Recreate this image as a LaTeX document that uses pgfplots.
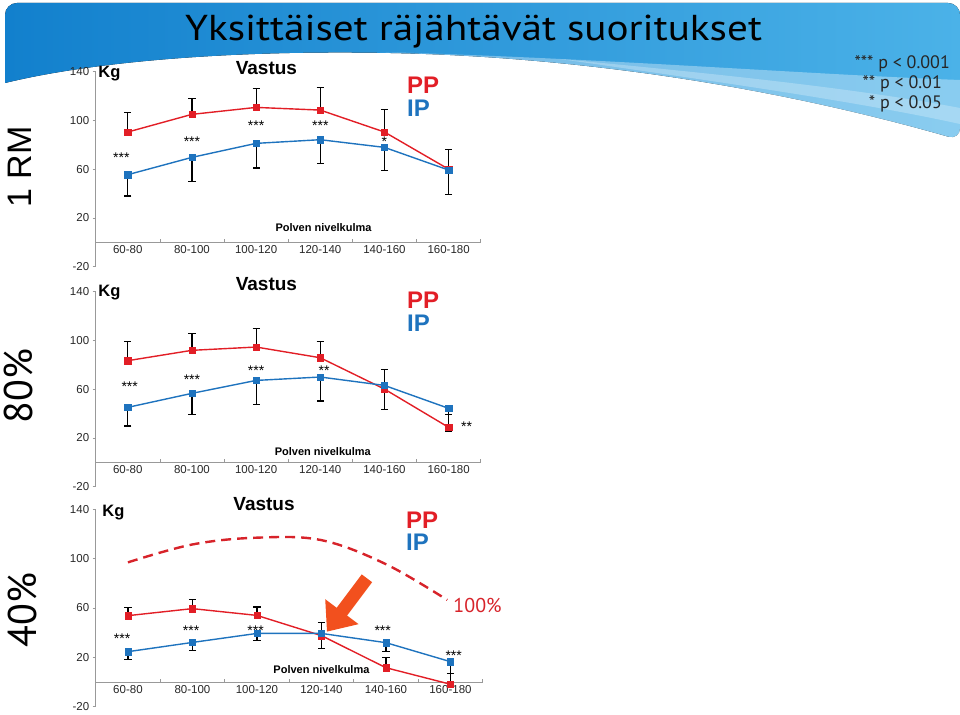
\documentclass[border=0pt]{standalone}
\usepackage{fontspec}
\setmainfont{Liberation Sans}
\newfontfamily\gill{PT Sans}
\usepackage{pgfplots}
\pgfplotsset{compat=1.18}
\usetikzlibrary{arrows.meta}
\definecolor{ppred}{RGB}{226,30,38}
\definecolor{ipblue}{RGB}{30,115,190}
\definecolor{arroworange}{RGB}{242,80,30}
\definecolor{bgblue}{RGB}{18,128,205}
\definecolor{bglight}{RGB}{75,178,232}
\definecolor{dashred}{RGB}{215,35,42}
\newcommand{\fs}[1]{\fontsize{#1}{#1}\selectfont}

\pgfplotsset{
  panel/.style={
    scale only axis, width=385pt, height=195pt,
    xmin=-0.5, xmax=5.5, ymin=-20, ymax=140,
    axis y line=left, axis x line=middle,
    axis line style={-, draw=black!40, line width=0.6pt},
    every inner x axis line/.append style={-},
    every outer y axis line/.append style={-},
    every outer x axis line/.append style={-},
    every inner y axis line/.append style={-},
    hide obscured x ticks=false, hide obscured y ticks=false,
    xtick={-0.5,0.5,...,5.5}, x tick label as interval,
    xticklabels={60-80,80-100,100-120,120-140,140-160,160-180},
    ytick={-20,20,60,100,140}, yticklabels={-20,20,60,100,140},
    tick style={draw=black!40, line width=0.6pt},
    major tick length=3pt,
    ytick align=outside, xtick align=inside,
    ticklabel style={font=\fs{11.5}, text=black!85},
    clip=false,
  },
  ppstyle/.style={color=ppred, line width=1.4pt, mark=square*, mark size=3.1pt,
    mark options={solid, fill=ppred, draw=ppred, line width=0.4pt},
    error bars/y dir=plus, error bars/y explicit,
    error bars/error bar style={black, line width=1.1pt},
    error bars/error mark options={rotate=90, black, line width=1.1pt, mark size=3.6pt}},
  ipstyle/.style={color=ipblue, line width=1.4pt, mark=square*, mark size=3.1pt,
    mark options={solid, fill=ipblue, draw=ipblue, line width=0.4pt},
    error bars/y dir=minus, error bars/y explicit,
    error bars/error bar style={black, line width=1.1pt},
    error bars/error mark options={rotate=90, black, line width=1.1pt, mark size=3.6pt}},
}
\tikzset{
  stars/.style={font=\fs{14}, anchor=base, yshift=-8pt, inner sep=0pt},
  kg/.style={font=\bfseries\fs{16.5}, anchor=base west, inner sep=0pt},
  vastus/.style={font=\bfseries\fs{19}, anchor=base, inner sep=0pt},
  pp/.style={font=\bfseries\fs{24}, anchor=base west, inner sep=0pt, text=ppred},
  ip/.style={font=\bfseries\fs{24}, anchor=base west, inner sep=0pt, text=ipblue},
  polven/.style={font=\bfseries\fs{11}, inner sep=0pt},
}

\begin{document}
\begin{tikzpicture}
\begin{scope}[x=1pt,y=1pt]
\path[use as bounding box] (0,0) rectangle (960,714);
% background swoosh
\fill[left color=bgblue, right color=bglight, rounded corners=12pt]
  (5,631) -- (5,711) -- (960,711) -- (960,574) [sharp corners]
  .. controls (820,614) and (650,649) .. (450,659)
  .. controls (300,666) and (120,659) .. (5,631) -- cycle;
\fill[white, opacity=0.35]
  (380,662) .. controls (600,656) and (800,640) .. (960,634) -- (960,574)
  .. controls (820,614) and (650,649) .. (450,659) -- cycle;
\fill[white, opacity=0.25]
  (560,655) .. controls (720,640) and (860,625) .. (960,606) -- (960,590)
  .. controls (860,612) and (720,632) .. (560,655) -- cycle;
% title
\node[font=\gill\fs{36}, anchor=base, inner sep=0pt] at (473.5,673) {\scalebox{1.145}[1]{Yksittäiset räjähtävät suoritukset}};
% significance legend
\node[font=\gill\fs{18}, anchor=base east, inner sep=0pt, text=black!85] at (950,645) {*** p < 0.001};
\node[font=\gill\fs{18}, anchor=base east, inner sep=0pt, text=black!85] at (942,625.5) {** p < 0.01};
\node[font=\gill\fs{18}, anchor=base east, inner sep=0pt, text=black!85] at (942,605.5) {* p < 0.05};
% side labels
\node[rotate=90, font=\fs{34}] at (20,547) {1 RM};
\node[rotate=90, font=\gill\fs{40}] at (18,328) {80\%};
\node[rotate=90, font=\gill\fs{40}] at (22,104) {40\%};
\end{scope}

% ---------- Panel 1: 1 RM ----------
\begin{axis}[panel, at={(95.7pt,447.3pt)}, anchor=south west]
\addplot[ppstyle] coordinates {
 (0,90.5) +- (0,15.9) (1,105) +- (0,13.1) (2,110.7) +- (0,15.6)
 (3,108.5) +- (0,18.6) (4,90.5) +- (0,18.6) (5,60) +- (0,16.3)};
\addplot[ipstyle] coordinates {
 (0,55.5) +- (0,17.5) (1,69.7) +- (0,20) (2,81.2) +- (0,20.2)
 (3,84.2) +- (0,19.2) (4,77.9) +- (0,18.6) (5,59.3) +- (0,19.7)};
\node[stars] at (axis cs:-0.1,72.2) {***};
\node[stars] at (axis cs:1.0,85.3) {***};
\node[stars] at (axis cs:2.0,98.4) {***};
\node[stars] at (axis cs:3.0,98.4) {***};
\node[stars] at (axis cs:4.0,85.3) {*};
\node[kg] at (axis cs:-0.46,135.1) {Kg};
\node[vastus] at (axis cs:2.16,138.1) {Vastus};
\node[pp] at (axis cs:4.35,122.3) {PP};
\node[ip] at (axis cs:4.35,103.1) {IP};
\node[polven] at (axis cs:3.05,11.8) {Polven nivelkulma};
\end{axis}

% ---------- Panel 2: 80% ----------
\begin{axis}[panel, at={(95.7pt,227.3pt)}, anchor=south west]
\addplot[ppstyle] coordinates {
 (0,83.4) +- (0,15.8) (1,91.9) +- (0,13.9) (2,94.6) +- (0,15)
 (3,85.8) +- (0,13.4) (4,60.1) +- (0,16.4) (5,28.7) +- (0,10.9)};
\addplot[ipstyle] coordinates {
 (0,45.1) +- (0,15.3) (1,56.6) +- (0,17.5) (2,67.2) +- (0,19.4)
 (3,70) +- (0,19.7) (4,63.1) +- (0,19.7) (5,44.3) +- (0,19.2)};
\node[stars] at (axis cs:0.03,64.8) {***};
\node[stars] at (axis cs:1.0,70.8) {***};
\node[stars] at (axis cs:2.0,77.6) {***};
\node[stars] at (axis cs:3.06,77.6) {**};
\node[stars] at (axis cs:5.28,32) {**};
\node[kg] at (axis cs:-0.46,135.9) {Kg};
\node[vastus] at (axis cs:2.16,140.8) {Vastus};
\node[pp] at (axis cs:4.35,126.4) {PP};
\node[ip] at (axis cs:4.35,107.2) {IP};
\node[polven] at (axis cs:3.04,8.5) {Polven nivelkulma};
\end{axis}

% ---------- Panel 3: 40% ----------
\begin{axis}[panel, width=387pt, height=197.4pt, at={(95.7pt,7.3pt)}, anchor=south west]
\addplot[dashred, line width=2.4pt, dash pattern=on 10pt off 6pt, smooth, tension=0.6]
 coordinates {(0,97) (1,111.5) (2,117) (3,115) (4,95.5) (4.95,66.5)};
\addplot[ppstyle] coordinates {
 (0,53.8) +- (0,6.7) (1,59.5) +- (0,7.2) (2,54) +- (0,6.8)
 (3,37.6) +- (0,10.8) (4,11.6) +- (0,8.1) (5,-1.8) +- (0,8.9)};
\addplot[ipstyle] coordinates {
 (0,24.6) +- (0,6.2) (1,32.1) +- (0,6.7) (2,39.4) +- (0,5.9)
 (3,39.4) +- (0,12.4) (4,31.9) +- (0,7.3) (5,16.5) +- (0,9.4)};
\draw[arroworange, line width=13pt, -{Triangle[length=25pt, width=40pt]}]
 (axis cs:3.705,84.1) -- (axis cs:3.085,40.8);
\node[stars] at (axis cs:-0.09,37.6) {***};
\node[stars] at (axis cs:0.98,44.3) {***};
\node[stars] at (axis cs:1.98,44.3) {***};
\node[stars] at (axis cs:3.95,44.3) {***};
\node[stars] at (axis cs:5.05,24) {***};
\node[kg] at (axis cs:-0.40,134) {Kg};
\node[vastus] at (axis cs:2.11,138.9) {Vastus};
\node[pp] at (axis cs:4.31,124.6) {PP};
\node[ip] at (axis cs:4.31,107) {IP};
\node[polven] at (axis cs:3.0,9.8) {Polven nivelkulma};
\node[font=\gill\fs{20}, text=dashred, inner sep=0pt] at (axis cs:5.42,62) {100\%};
\end{axis}
\end{tikzpicture}
\end{document}
